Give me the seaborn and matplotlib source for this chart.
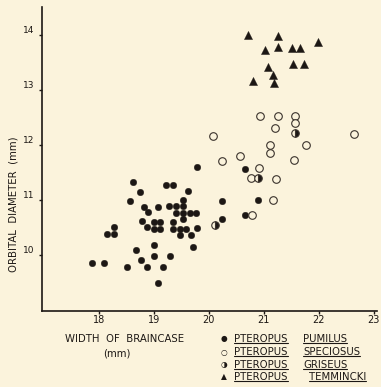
import matplotlib
matplotlib.use("Agg")
import numpy as np
import pandas as pd
import seaborn as sns
import matplotlib.pyplot as plt
from matplotlib.lines import Line2D

# values (width of braincase, orbital diameter; mm)
pumilus_x = [19.79, 18.63, 19.23, 19.35, 18.76, 19.63, 18.57, 19.53, 18.83, 19.07,
             19.28, 19.41, 19.54, 18.89, 19.41, 19.54, 19.66, 19.77, 18.79, 19.00,
             19.11, 19.36, 19.54, 18.88, 19.00, 19.11, 19.35, 19.47, 19.59, 19.79,
             18.28, 18.16, 18.28, 19.48, 19.68, 18.67, 19.00, 19.71, 18.77, 19.00,
             19.29, 17.88, 18.09, 18.51, 18.88, 19.17, 19.07, 20.66, 20.24, 20.90,
             20.66, 20.24]
pumilus_y = [11.60, 11.33, 11.27, 11.27, 11.14, 11.17, 10.99, 11.01, 10.87, 10.88,
             10.89, 10.89, 10.89, 10.78, 10.77, 10.77, 10.77, 10.77, 10.62, 10.60,
             10.60, 10.61, 10.65, 10.52, 10.48, 10.48, 10.48, 10.48, 10.48, 10.49,
             10.52, 10.39, 10.39, 10.36, 10.36, 10.10, 10.18, 10.15, 9.91, 9.98,
             9.99, 9.86, 9.86, 9.78, 9.78, 9.79, 9.50, 11.56, 10.99, 11.00,
             10.73, 10.65]

speciosus_x = [20.94, 21.25, 21.56, 21.57, 21.20, 20.08, 22.63, 21.12, 21.11, 21.77,
               20.57, 20.24, 21.55, 20.91, 20.76, 21.23, 21.16, 20.79]
speciosus_y = [12.52, 12.52, 12.53, 12.40, 12.31, 12.16, 12.20, 12.01, 11.86, 12.01,
               11.80, 11.71, 11.73, 11.59, 11.41, 11.38, 11.00, 10.73]

griseus_x = [21.56, 20.89, 20.12]
griseus_y = [12.22, 11.40, 10.54]

temmincki_x = [20.72, 21.26, 21.98, 21.02, 21.25, 21.52, 21.66, 21.53, 21.73, 21.07,
               21.16, 20.80, 21.18]
temmincki_y = [14.00, 13.98, 13.87, 13.73, 13.78, 13.77, 13.76, 13.47, 13.47, 13.42,
               13.28, 13.16, 13.13]

x_ticks = [18, 19, 20, 21, 22, 23]
y_ticks = [10, 11, 12, 13, 14]
legend_genus = ["PTEROPUS", "PTEROPUS", "PTEROPUS", "PTEROPUS"]
legend_species = ["PUMILUS", "SPECIOSUS", "GRISEUS", "TEMMINCKI"]
legend_glyphs = ["\u25cf", "\u25cb", "\u25d1", "\u25b2"]

BG = "#fbf3dc"
INK = "#1c1714"

sns.set_theme(style="ticks")
plt.rcParams["font.family"] = ["DejaVu Sans"]

fig = plt.figure(figsize=(3.81, 3.87), dpi=100, facecolor=BG)
ax = fig.add_axes([0.110, 0.197, 0.880, 0.785], facecolor=BG)

sns.scatterplot(x=pumilus_x, y=pumilus_y, ax=ax, marker="o", s=22,
                color=INK, edgecolor=INK, linewidth=0.3, zorder=3)
sns.scatterplot(x=speciosus_x, y=speciosus_y, ax=ax, marker="o", s=30,
                facecolor=BG, edgecolor="#3a322c", linewidth=0.8, zorder=3)
sns.scatterplot(x=temmincki_x, y=temmincki_y, ax=ax, marker="^", s=34,
                color=INK, edgecolor=INK, linewidth=0.3, zorder=3)
# half-filled circles: seaborn has no fillstyle, so plain matplotlib here
ax.plot(griseus_x, griseus_y, linestyle="none", marker="o", markersize=5.4,
        fillstyle="right", markerfacecolor=INK, markerfacecoloralt=BG,
        markeredgecolor="#3a322c", markeredgewidth=0.8, zorder=3)

ax.set_xlim(16.97, 23.06)
ax.set_ylim(8.99, 14.51)
ax.set_xticks(x_ticks)
ax.set_yticks(y_ticks)
ax.set_xticklabels([str(t) for t in x_ticks], fontsize=7, color=INK)
ax.set_yticklabels([str(t) for t in y_ticks], fontsize=6.5, color=INK, va="bottom")
ax.tick_params(axis="x", length=2.5, width=1, pad=0.5, color=INK)
ax.tick_params(axis="y", length=2.5, width=1, pad=3, color=INK)
for side in ["top", "right"]:
    ax.spines[side].set_visible(False)
for side in ["left", "bottom"]:
    ax.spines[side].set_linewidth(1.2)
    ax.spines[side].set_color(INK)
ax.set_xlabel("")
ax.set_ylabel("")

W, H = 381.0, 387.0
txt = dict(color=INK, fontsize=7.3)
fig.text(14 / W, 1 - 204 / H, "ORBITAL  DIAMETER  (mm)", rotation=90,
         ha="center", va="center", **txt)
fig.text(125 / W, 1 - 339 / H, "WIDTH  OF  BRAINCASE", ha="center", va="center", **txt)
fig.text(117 / W, 1 - 353 / H, "(mm)", ha="center", va="center", **txt)

row_y = [339, 352, 365, 377]
to_line = []
for i in range(4):
    yy = 1 - row_y[i] / H
    fig.text(224 / W, yy, legend_glyphs[i], ha="center", va="center",
             color=INK, fontsize=5.5)
    t1 = fig.text(234 / W, yy, legend_genus[i], ha="left", va="center", **txt)
    t2 = fig.text((303 if i < 3 else 309) / W, yy, legend_species[i],
                  ha="left", va="center", **txt)
    to_line += [t1, t2]

# underline the names just below the capitals
fig.canvas.draw()
renderer = fig.canvas.get_renderer()
for t in to_line:
    bb = t.get_window_extent(renderer)
    yline = (bb.y0 + 1.2) / fig.bbox.height
    fig.add_artist(Line2D([bb.x0 / fig.bbox.width, bb.x1 / fig.bbox.width],
                          [yline, yline], transform=fig.transFigure,
                          color=INK, linewidth=0.8))

fig.savefig("out.png", dpi=100, facecolor=BG)
